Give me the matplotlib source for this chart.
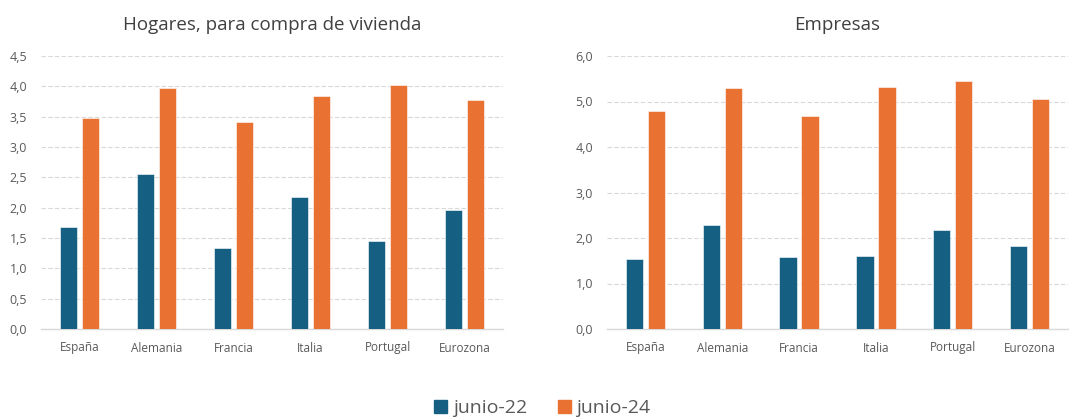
"""Tipos de interés de nuevos préstamos: hogares (vivienda) y empresas."""

import matplotlib.pyplot as plt
import numpy as np
from matplotlib.patches import Patch
from matplotlib.ticker import FuncFormatter, MultipleLocator

countries = ['España', 'Alemania', 'Francia', 'Italia', 'Portugal', 'Eurozona']
series_names = ['junio-22', 'junio-24']

hogares_jun22 = [1.68, 2.56, 1.34, 2.17, 1.45, 1.96]
hogares_jun24 = [3.47, 3.97, 3.42, 3.84, 4.02, 3.78]

empresas_jun22 = [1.53, 2.29, 1.58, 1.61, 2.18, 1.82]
empresas_jun24 = [4.79, 5.29, 4.69, 5.31, 5.44, 5.06]

BLUE = '#156082'
ORANGE = '#E97132'
TEXT = '#595959'
GRID = '#D9D9D9'

plt.rcParams['font.family'] = ['Open Sans', 'DejaVu Sans']

W, H = 1074, 418
fig = plt.figure(figsize=(W / 100, H / 100), dpi=100)


def px_axes(x0, y_top, x1, y_bot):
    return fig.add_axes([x0 / W, 1 - y_bot / H, (x1 - x0) / W, (y_bot - y_top) / H])


def draw_panel(ax, title, a, b, ymax, step):
    x = np.arange(len(countries))
    bw = 0.225
    off = 0.143
    ax.bar(x - off, a, bw, color=BLUE, edgecolor='white', linewidth=0.4, zorder=3)
    ax.bar(x + off, b, bw, color=ORANGE, edgecolor='white', linewidth=0.4, zorder=3)

    ax.set_xlim(-0.5, len(countries) - 0.5)
    ax.set_ylim(0, ymax)
    ax.yaxis.set_major_locator(MultipleLocator(step))
    ax.yaxis.set_major_formatter(FuncFormatter(lambda v, _: f'{v:.1f}'.replace('.', ',')))
    ax.set_xticks(x)
    ax.set_xticklabels(countries)

    ax.grid(axis='y', color=GRID, linestyle=(0, (4, 2)), linewidth=0.8, zorder=0)
    for s in ['top', 'right', 'left']:
        ax.spines[s].set_visible(False)
    ax.spines['bottom'].set_color(GRID)
    ax.spines['bottom'].set_linewidth(1.0)
    ax.tick_params(axis='both', length=0, colors=TEXT)
    ax.tick_params(axis='y', pad=10, labelsize=9)
    ax.tick_params(axis='x', pad=9, labelsize=8.5)
    ax.set_title(title, fontsize=13.5, color='#404040', pad=19)


ax1 = px_axes(41, 56, 503, 329)
draw_panel(ax1, 'Hogares, para compra de vivienda', hogares_jun22, hogares_jun24, 4.5, 0.5)

ax2 = px_axes(607, 56, 1068, 329)
draw_panel(ax2, 'Empresas', empresas_jun22, empresas_jun24, 6.0, 1.0)

handles = [Patch(color=BLUE), Patch(color=ORANGE)]
leg = fig.legend(handles, series_names, loc='lower center', bbox_to_anchor=(0.505, -0.04),
                 ncol=2, frameon=False, fontsize=14, handlelength=0.65, handleheight=0.65,
                 handletextpad=0.3, columnspacing=1.6)
for t in leg.get_texts():
    t.set_color(TEXT)

fig.savefig('out.png', dpi=100)
